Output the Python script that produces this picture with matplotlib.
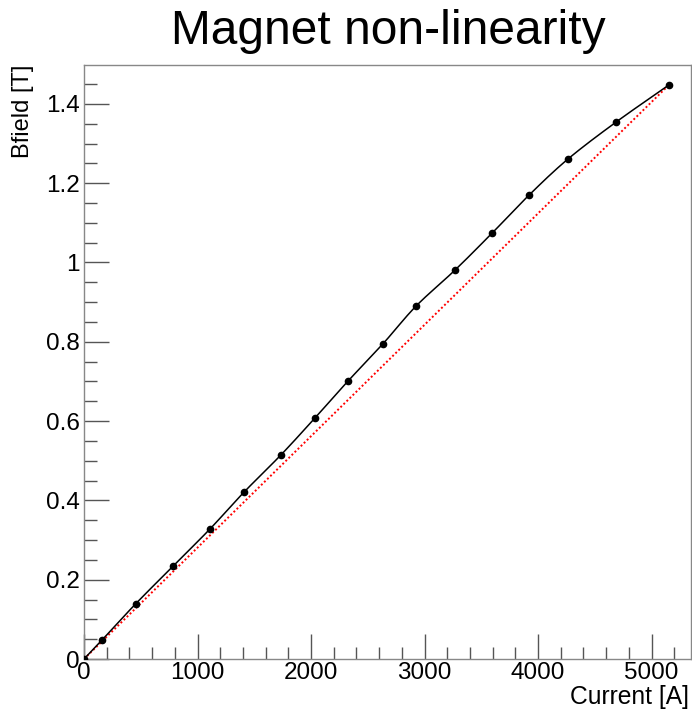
import numpy as np
import matplotlib.pyplot as plt
from matplotlib.ticker import MultipleLocator, FuncFormatter

# Measured magnet excitation points
current = [0, 159, 458, 787, 1110, 1410, 1736, 2035, 2326, 2634,
           2925, 3269, 3595, 3921, 4264, 4687, 5154]
bfield = [0.0, 0.048, 0.140, 0.235, 0.328, 0.421, 0.515, 0.608, 0.701, 0.795,
          0.890, 0.981, 1.074, 1.170, 1.261, 1.354, 1.448]

plt.rcParams['font.family'] = ['Liberation Sans', 'DejaVu Sans']


def smooth_curve(x, y, n=12):
    # Catmull-Rom through the points, like ROOT's "C" draw option
    x = np.asarray(x, float)
    y = np.asarray(y, float)
    px = np.concatenate([[2 * x[0] - x[1]], x, [2 * x[-1] - x[-2]]])
    py = np.concatenate([[2 * y[0] - y[1]], y, [2 * y[-1] - y[-2]]])
    xs, ys = [], []
    t = np.linspace(0, 1, n, endpoint=False)
    for i in range(1, len(px) - 2):
        for p, out in ((px, xs), (py, ys)):
            p0, p1, p2, p3 = p[i - 1], p[i], p[i + 1], p[i + 2]
            out.extend(0.5 * (2 * p1 + (-p0 + p2) * t
                              + (2 * p0 - 5 * p1 + 4 * p2 - p3) * t ** 2
                              + (-p0 + 3 * p1 - 3 * p2 + p3) * t ** 3))
    xs.append(x[-1])
    ys.append(y[-1])
    return xs, ys


fig = plt.figure(figsize=(6.92, 7.13), dpi=100)
ax = fig.add_axes([0.1214, 0.0757, 0.8772, 0.8331])

# linear reference: straight line from origin to last point
ax.plot([0, current[-1]], [0, bfield[-1]], color='red', ls=(0, (1, 1.2)), lw=1.4, zorder=2)
sx, sy = smooth_curve(current, bfield)
ax.plot(sx, sy, color='black', lw=1.1, zorder=3)
ax.plot(current, bfield, ls='none', color='black', marker='o', ms=4.5, zorder=4)

ax.set_xlim(0, 5348)
ax.set_ylim(0, 1.498)

ax.xaxis.set_major_locator(MultipleLocator(1000))
ax.xaxis.set_minor_locator(MultipleLocator(200))
ax.yaxis.set_major_locator(MultipleLocator(0.2))
ax.yaxis.set_minor_locator(MultipleLocator(0.05))
ax.yaxis.set_major_formatter(FuncFormatter(lambda v, p: f"{v:g}"))

ax.tick_params(which='both', direction='in', top=False, right=False,
               color='#555555', labelsize=17.5, width=1)
ax.tick_params(which='major', length=18)
ax.tick_params(which='minor', length=9)
ax.tick_params(axis='x', pad=2)
ax.tick_params(axis='y', pad=3)

for s in ax.spines.values():
    s.set_color('#888888')
    s.set_linewidth(1)

fig.text(0.561, 1 - 32 / 713, "Magnet non-linearity", ha='center', va='center', fontsize=34.5)
fig.text(689 / 692, 1 - 697 / 713, "Current [A]", ha='right', va='center', fontsize=17.7)
fig.text(23 / 692, 1 - 65 / 713, "Bfield [T]", ha='center', va='top', rotation=90, fontsize=17)

fig.savefig("out.png", dpi=100)
